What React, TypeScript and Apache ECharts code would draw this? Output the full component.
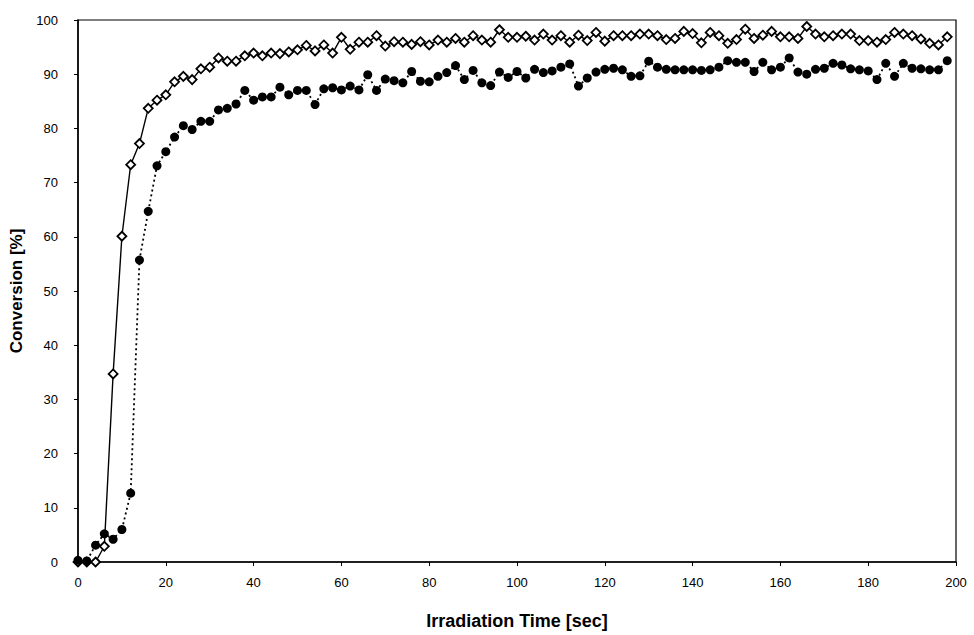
import React, { useEffect, useRef } from "react";
import * as echarts from "echarts";

// Irradiation time [sec]
const times: number[] = Array.from({ length: 100 }, (_, i) => i * 2);

// Open diamonds, solid line
const conversionOpen: number[] = [
  0, 0, 0, 2.9, 34.7, 60.1, 73.3, 77.2, 83.7, 85.2,
  86.2, 88.6, 89.6, 89.0, 91.0, 91.3, 93.0, 92.4, 92.4, 93.4,
  93.9, 93.4, 93.9, 93.8, 94.1, 94.5, 95.3, 94.3, 95.4, 93.9,
  96.8, 94.6, 95.9, 95.9, 97.1, 95.2, 96.0, 95.9, 95.5, 96.0,
  95.4, 96.3, 95.9, 96.6, 95.9, 97.1, 96.3, 95.9, 98.2, 96.8,
  96.8, 97.0, 96.3, 97.4, 96.3, 97.1, 95.9, 97.2, 96.2, 97.7,
  96.1, 97.1, 97.1, 97.1, 97.4, 97.4, 97.1, 96.4, 96.6, 97.9,
  97.5, 95.8, 97.7, 97.1, 95.7, 96.4, 98.3, 96.6, 97.2, 97.9,
  96.9, 96.9, 96.6, 98.8, 97.4, 96.9, 97.1, 97.4, 97.4, 96.2,
  96.2, 95.9, 96.4, 97.7, 97.4, 97.1, 96.5, 95.7, 95.4, 96.9,
];

// Filled circles, dotted line
const conversionFilled: number[] = [
  0.3, 0.2, 3.1, 5.2, 4.2, 6.0, 12.7, 55.7, 64.7, 73.1,
  75.7, 78.4, 80.5, 79.8, 81.3, 81.3, 83.4, 83.7, 84.5, 87.0,
  85.2, 85.8, 85.8, 87.6, 86.2, 87.0, 87.0, 84.4, 87.3, 87.5,
  87.1, 87.8, 87.1, 89.9, 87.0, 89.1, 88.8, 88.4, 90.5, 88.7,
  88.6, 89.6, 90.3, 91.6, 89.0, 90.7, 88.4, 87.9, 90.4, 89.4,
  90.5, 89.3, 90.9, 90.3, 90.6, 91.3, 91.9, 87.8, 89.3, 90.4,
  90.9, 91.1, 90.8, 89.6, 89.7, 92.4, 91.3, 90.9, 90.8, 90.8,
  90.8, 90.7, 90.8, 91.3, 92.5, 92.2, 92.2, 90.5, 92.2, 90.8,
  91.3, 93.0, 90.4, 90.0, 90.9, 91.1, 92.0, 91.7, 91.0, 90.8,
  90.6, 89.0, 92.0, 89.6, 92.0, 91.1, 91.0, 90.8, 90.8, 92.5,
];

const xTitle = "Irradiation Time [sec]";
const yTitle = "Conversion [%]";

export default function App() {
  const ref = useRef<HTMLDivElement>(null);
  useEffect(() => {
    if (!ref.current) return;
    const chart = echarts.init(ref.current, null, { renderer: "svg" });
    const font = "'Liberation Sans', Arial, sans-serif";
    chart.setOption({
      animation: false,
      backgroundColor: "#ffffff",
      grid: {
        left: 78,
        right: 18,
        top: 20,
        bottom: 70,
        show: true,
        borderColor: "#000",
        borderWidth: 1.2,
        backgroundColor: "transparent",
      },
      xAxis: {
        type: "value",
        min: 0,
        max: 200,
        interval: 20,
        name: xTitle,
        nameLocation: "middle",
        nameGap: 50,
        nameTextStyle: { fontFamily: font, fontSize: 18, fontWeight: "bold", color: "#000" },
        axisLine: { show: true, onZero: false, lineStyle: { color: "#000", width: 1.5 } },
        axisTick: { show: true, inside: false, length: 4, lineStyle: { color: "#000" } },
        axisLabel: { fontFamily: font, fontSize: 13, color: "#000", margin: 14 },
        splitLine: { show: false },
      },
      yAxis: {
        type: "value",
        min: 0,
        max: 100,
        interval: 10,
        name: yTitle,
        nameLocation: "middle",
        nameGap: 50,
        nameTextStyle: { fontFamily: font, fontSize: 17, fontWeight: "bold", color: "#000" },
        axisLine: { show: true, lineStyle: { color: "#000", width: 1.5 } },
        axisTick: { show: true, inside: false, length: 4, lineStyle: { color: "#000" } },
        axisLabel: { fontFamily: font, fontSize: 13, color: "#000", margin: 20 },
        splitLine: { show: false },
      },
      series: [
        {
          name: "open",
          type: "line",
          data: times.map((t, i) => [t, conversionOpen[i]]),
          symbol: "diamond",
          symbolSize: 9,
          showAllSymbol: true,
          lineStyle: { color: "#000", width: 1.4, type: "solid" },
          itemStyle: { color: "#fff", borderColor: "#000", borderWidth: 1.8 },
          z: 2,
        },
        {
          name: "filled",
          type: "line",
          data: times.map((t, i) => [t, conversionFilled[i]]),
          symbol: "circle",
          symbolSize: 9,
          showAllSymbol: true,
          lineStyle: { color: "#000", width: 1.8, type: [2, 3] },
          itemStyle: { color: "#000", borderColor: "#000", borderWidth: 0 },
          z: 3,
        },
      ],
    });
    return () => chart.dispose();
  }, []);
  return (
    <div
      ref={ref}
      style={{ position: "fixed", left: 0, top: 0, width: 974, height: 635, background: "#fff" }}
    />
  );
}
